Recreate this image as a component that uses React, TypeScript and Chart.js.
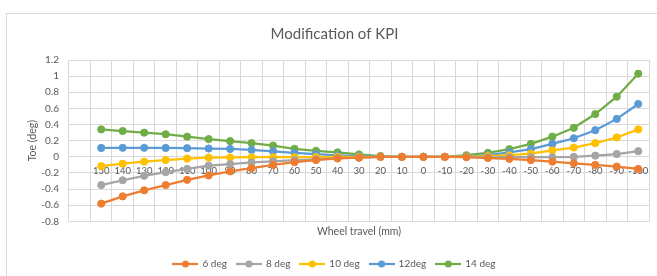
import React, { useEffect, useRef } from "react";
import { Chart, registerables } from "chart.js";

Chart.register(...registerables);

const categories = ["", "150", "140", "130", "120", "110", "100", "90", "80", "70", "60", "50", "40", "30", "20", "10", "0", "-10", "-20", "-30", "-40", "-50", "-60", "-70", "-80", "-90", "-100"];

const deg6 = [null, -0.58, -0.49, -0.415, -0.35, -0.285, -0.23, -0.18, -0.14, -0.1, -0.066, -0.04, -0.02, -0.01, 0, 0, 0, 0, -0.005, -0.015, -0.025, -0.04, -0.06, -0.08, -0.1, -0.12, -0.15];
const deg8 = [null, -0.35, -0.29, -0.235, -0.19, -0.15, -0.11, -0.09, -0.07, -0.055, -0.04, -0.03, -0.015, -0.01, 0, 0, 0, 0, 0, -0.005, -0.005, -0.005, -0.005, 0, 0.015, 0.035, 0.07];
const deg10 = [null, -0.115, -0.085, -0.06, -0.04, -0.022, -0.01, -0.008, -0.005, -0.005, -0.005, -0.003, 0, 0, 0, 0, 0, 0, 0.003, 0.01, 0.02, 0.04, 0.08, 0.115, 0.17, 0.24, 0.34];
const deg12 = [null, 0.11, 0.112, 0.112, 0.11, 0.107, 0.103, 0.098, 0.085, 0.068, 0.05, 0.033, 0.018, 0.008, 0.002, 0, 0, 0, 0.005, 0.02, 0.055, 0.095, 0.16, 0.23, 0.33, 0.47, 0.655];
const deg14 = [null, 0.34, 0.32, 0.3, 0.28, 0.25, 0.22, 0.195, 0.17, 0.14, 0.1, 0.075, 0.055, 0.03, 0.01, 0, 0, 0, 0.02, 0.05, 0.095, 0.16, 0.25, 0.36, 0.53, 0.745, 1.03];

const seriesNames = ["6 deg", "8 deg", "10 deg", "12deg", "14 deg"];
const seriesColors = ["#ED7D31", "#A5A5A5", "#FFC000", "#5B9BD5", "#70AD47"];
const seriesValues = [deg6, deg8, deg10, deg12, deg14];

const FONT = "Lato, 'Liberation Sans', sans-serif";
const TEXT = "#595959";
const GRID = "#D9D9D9";

function legendSwatch(color: string) {
  const c = document.createElement("canvas");
  c.width = 26;
  c.height = 8;
  const ctx = c.getContext("2d")!;
  ctx.strokeStyle = color;
  ctx.lineWidth = 2.25;
  ctx.beginPath();
  ctx.moveTo(0, 4);
  ctx.lineTo(26, 4);
  ctx.stroke();
  ctx.fillStyle = color;
  ctx.beginPath();
  ctx.arc(13, 4, 3.5, 0, Math.PI * 2);
  ctx.fill();
  return c;
}

export default function App() {
  const ref = useRef<HTMLCanvasElement | null>(null);

  useEffect(() => {
    document.body.style.margin = "0";
    const swatches = seriesColors.map(legendSwatch);
    const chart = new Chart(ref.current!, {
      type: "line",
      data: {
        labels: categories,
        datasets: seriesNames.map((name, i) => ({
          label: name,
          data: seriesValues[i],
          borderColor: seriesColors[i],
          backgroundColor: seriesColors[i],
          borderWidth: 2.25,
          pointRadius: 3.6,
          pointBorderWidth: 1,
          pointBackgroundColor: seriesColors[i],
          pointBorderColor: seriesColors[i],
          tension: 0,
          spanGaps: false,
        })),
      },
      options: {
        responsive: false,
        animation: false,
        devicePixelRatio: 1,
        layout: { padding: { left: 20, right: 8, top: 13, bottom: -3 } },
        scales: {
          x: {
            type: "category",
            position: { y: 0 } as any,
            offset: true,
            grid: { color: GRID, offset: true, drawTicks: false, lineWidth: 1 },
            border: { color: GRID },
            ticks: {
              color: TEXT,
              font: { family: FONT, size: 9.5 },
              padding: 8,
              maxRotation: 0,
              autoSkip: false,
            },
          },
          x2: {
            type: "category",
            position: "bottom",
            offset: true,
            grid: { display: false, drawTicks: false },
            border: { display: false },
            ticks: { display: false },
            title: {
              display: true,
              text: "Wheel travel (mm)",
              color: TEXT,
              font: { family: FONT, size: 10.5 },
              padding: { top: 4, bottom: 11 },
            },
          },
          y: {
            min: -0.8,
            max: 1.2,
            grid: { color: GRID, drawTicks: false },
            border: { display: false },
            ticks: {
              stepSize: 0.2,
              autoSkip: false,
              color: TEXT,
              font: { family: FONT, size: 10 },
              padding: 10,
              callback: (v: any) => String(Number(Number(v).toFixed(1))),
            },
            title: {
              display: true,
              text: "Toe (deg)",
              color: TEXT,
              font: { family: FONT, size: 10.5 },
              padding: { top: 6, bottom: 3 },
            },
            afterFit: (s: any) => {
              s.width = 49;
            },
          },
        },
        plugins: {
          title: {
            display: true,
            text: "Modification of KPI",
            color: TEXT,
            font: { family: FONT, size: 15, weight: "normal" },
            padding: { top: 12, bottom: 17 },
          },
          legend: {
            position: "bottom",
            labels: {
              color: TEXT,
              font: { family: FONT, size: 10 },
              usePointStyle: true,
              pointStyleWidth: 24,
              padding: 10,
              generateLabels: (ch: any) => {
                const items = Chart.defaults.plugins.legend.labels.generateLabels(ch);
                items.forEach((it: any) => {
                  it.pointStyle = swatches[it.datasetIndex];
                });
                return items;
              },
            },
          },
          tooltip: { enabled: false },
        },
      },
    });
    return () => chart.destroy();
  }, []);

  return (
    <div style={{ position: "relative", width: 657, height: 276, background: "#fff", overflow: "hidden" }}>
      <div
        style={{
          position: "absolute",
          left: 6,
          top: 13,
          width: 700,
          height: 300,
          borderLeft: "1px solid #D9D9D9",
          borderTop: "1px solid #D9D9D9",
        }}
      />
      <canvas ref={ref} width={657} height={276} style={{ position: "absolute", left: 0, top: 0 }} />
    </div>
  );
}
